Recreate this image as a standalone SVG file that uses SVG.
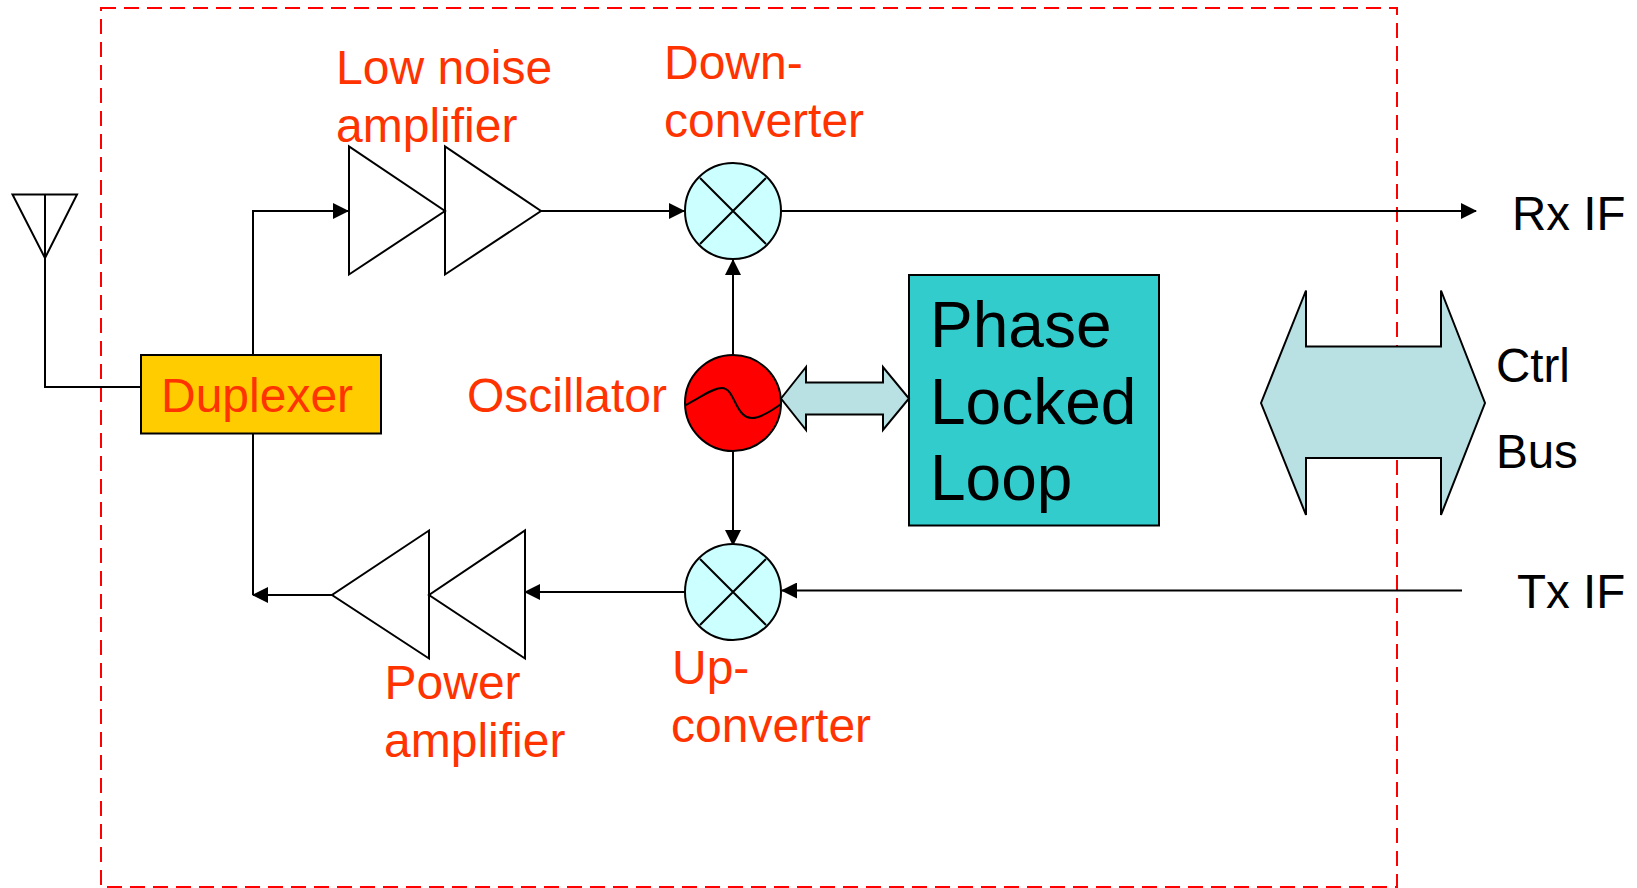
<svg xmlns="http://www.w3.org/2000/svg" width="1637" height="888" viewBox="0 0 1637 888">
<style>
text{font-family:"Liberation Sans",Arial,sans-serif}
.r{fill:#ff3300;font-size:48px}
.k{fill:#000;font-size:47.500px}
.p{fill:#000;font-size:64px}
.s{fill:none;stroke:#000;stroke-width:2}
.w{fill:#fff;stroke:#000;stroke-width:2}
.c{stroke:#000;stroke-width:2;fill:none}
.a{fill:#b9e0e3;stroke:#000;stroke-width:2}
.m{fill:#ccffff;stroke:#000;stroke-width:2}
</style>
<defs><marker id="ah" markerUnits="userSpaceOnUse" markerWidth="16" markerHeight="16" refX="15" refY="8" orient="auto"><path d="M0 0L16 8L0 16Z" fill="#000"/></marker></defs>
<rect id="boundary" x="101" y="8" width="1296" height="879" fill="none" stroke="#ff0000" stroke-width="2" stroke-dasharray="15 8"/>
<g id="connectors">
<path class="c" d="M45 258V387H141"/>
<path class="c" d="M253 355V211H348" marker-end="url(#ah)"/>
<path class="c" d="M541 211H684" marker-end="url(#ah)"/>
<path class="c" d="M781 211H1476" marker-end="url(#ah)"/>
<path class="c" d="M733 355V260" marker-end="url(#ah)"/>
<path class="c" d="M733 451V545" marker-end="url(#ah)"/>
<path class="c" d="M1462 590.500H782" marker-end="url(#ah)"/>
<path class="c" d="M685 592H525" marker-end="url(#ah)"/>
<path class="c" d="M332 595H253" marker-end="url(#ah)"/>
<path class="c" d="M253 433V595"/>
</g>
<g id="antenna"><path class="s" d="M12.500 194.500H77L45 258ZM45 194.500V258"/></g>
<g id="duplexer"><rect x="141" y="355" width="240" height="78.500" fill="#ffcc00" stroke="#000" stroke-width="2"/><text class="r" x="161" y="412">Duplexer</text></g>
<g id="lna"><path class="w" d="M349 146.500V274.500L445 211ZM445 146.500V274.500L541 211Z"/><text class="r" x="336" y="84">Low noise</text><text class="r" x="336" y="142">amplifier</text></g>
<g id="downconverter"><circle class="m" cx="733" cy="211" r="48"/><path class="s" d="M700 178L766 244M766 178L700 244"/><text class="r" x="664" y="79">Down-</text><text class="r" x="664" y="137">converter</text></g>
<g id="oscillator"><circle cx="733" cy="403" r="48" fill="#ff0000" stroke="#000" stroke-width="2"/><path class="s" d="M686 405C700 398 712 388 722 388C735 388 735 418 752 418C760 418 770 412 781 404"/><text class="r" x="467" y="412">Oscillator</text></g>
<g id="upconverter"><circle class="m" cx="733" cy="592" r="48"/><path class="s" d="M700 559L766 625M766 559L700 625"/><text class="r" x="672" y="684">Up-</text><text class="r" x="671" y="742">converter</text></g>
<g id="pa"><path class="w" d="M429 530.500V658.500L332 595ZM525 530.500V658.500L429 595Z"/><text class="r" x="384.500" y="699">Power</text><text class="r" x="384" y="757">amplifier</text></g>
<g id="pll"><rect x="909" y="275" width="250" height="250.500" fill="#33cccc" stroke="#000" stroke-width="2"/><text class="p" x="930" y="347">Phase</text><text class="p" x="930" y="424">Locked</text><text class="p" x="930" y="500">Loop</text></g>
<g id="pll-arrow"><path class="a" d="M781 398.500L806 367V382.500H883V367L909 398.500L883 430V414.500H806V430Z"/></g>
<g id="ctrl-bus"><path class="a" d="M1261 403L1306 290.500V346.500H1441V290.500L1485 403L1441 515V458H1306V515Z"/><text class="k" x="1496" y="382">Ctrl</text><text class="k" x="1496" y="468">Bus</text></g>
<g id="rx"><text class="k" x="1512" y="230">Rx IF</text></g>
<g id="tx"><text class="k" x="1517" y="607.500">Tx IF</text></g>
</svg>
